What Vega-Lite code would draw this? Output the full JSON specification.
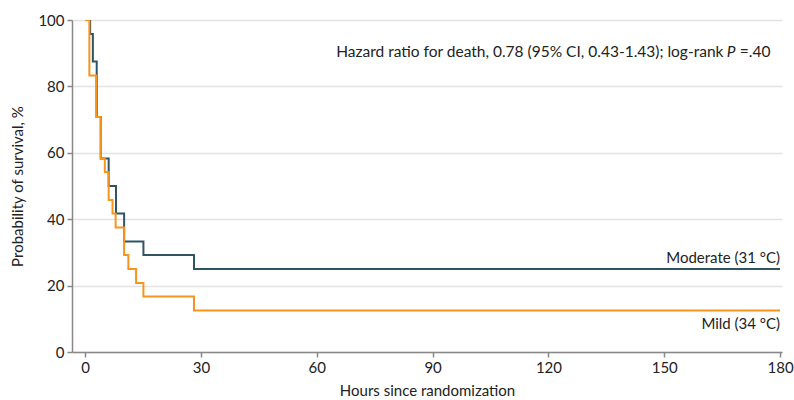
{
  "$schema": "https://vega.github.io/schema/vega-lite/v6.json",
  "autosize": {"type": "none"},
  "width": 710,
  "height": 332,
  "padding": {"left": 72, "top": 20, "right": 12, "bottom": 48},
  "config": {
    "font": "Lato",
    "view": {"stroke": null},
    "axis": {"labelFont": "Lato", "titleFont": "Lato", "labelFontSize": 15, "titleFontSize": 15, "labelColor": "#222", "titleColor": "#222", "titleFontWeight": "normal", "domainColor": "#888", "tickColor": "#888", "domainWidth": 1.5, "tickWidth": 1.5, "tickSize": 5}
  },
  "datasets": {
    "km": [
      {"group": "Moderate", "hours": 0, "surv": 100},
      {"group": "Moderate", "hours": 1.3, "surv": 95.8},
      {"group": "Moderate", "hours": 2, "surv": 87.5},
      {"group": "Moderate", "hours": 3, "surv": 70.8},
      {"group": "Moderate", "hours": 4.05, "surv": 58.3},
      {"group": "Moderate", "hours": 6.1, "surv": 50},
      {"group": "Moderate", "hours": 8, "surv": 41.7},
      {"group": "Moderate", "hours": 10.1, "surv": 33.3},
      {"group": "Moderate", "hours": 15.1, "surv": 29.2},
      {"group": "Moderate", "hours": 28.2, "surv": 25},
      {"group": "Moderate", "hours": 180, "surv": 25},
      {"group": "Mild", "hours": 0, "surv": 100},
      {"group": "Mild", "hours": 1.1, "surv": 83.3},
      {"group": "Mild", "hours": 2.85, "surv": 70.8},
      {"group": "Mild", "hours": 4.05, "surv": 58.3},
      {"group": "Mild", "hours": 5.1, "surv": 54.2},
      {"group": "Mild", "hours": 6.1, "surv": 45.8},
      {"group": "Mild", "hours": 7.1, "surv": 41.7},
      {"group": "Mild", "hours": 7.9, "surv": 37.5},
      {"group": "Mild", "hours": 10.1, "surv": 29.2},
      {"group": "Mild", "hours": 11.2, "surv": 25},
      {"group": "Mild", "hours": 13.2, "surv": 20.8},
      {"group": "Mild", "hours": 15.1, "surv": 16.7},
      {"group": "Mild", "hours": 28.2, "surv": 12.5},
      {"group": "Mild", "hours": 180, "surv": 12.5}
    ],
    "labels": [
      {"group": "Moderate", "hours": 180, "surv": 25, "text": "Moderate (31 °C)"},
      {"group": "Mild", "hours": 180, "surv": 12.5, "text": "Mild (34 °C)"}
    ],
    "annot": [
      {"hours": 177.5, "surv": 90.4, "part": "a", "text": "Hazard ratio for death, 0.78 (95% CI, 0.43-1.43); log-rank"},
      {"hours": 177.5, "surv": 90.4, "part": "b", "text": "P"},
      {"hours": 177.5, "surv": 90.4, "part": "c", "text": "=.40"}
    ]
  },
  "layer": [
    {
      "data": {"name": "km"},
      "mark": {"type": "line", "interpolate": "step-after", "strokeWidth": 2, "clip": true},
      "encoding": {
        "x": {"field": "hours", "type": "quantitative", "scale": {"domain": [-3.4, 180.5], "nice": false, "zero": false}, "axis": {"values": [0, 30, 60, 90, 120, 150, 180], "title": "Hours since randomization", "grid": false, "titlePadding": 8, "labelPadding": 3}},
        "y": {"field": "surv", "type": "quantitative", "scale": {"domain": [0, 100], "nice": false}, "axis": {"values": [0, 20, 40, 60, 80, 100], "title": "Probability of survival, %", "grid": true, "gridColor": "#e3e3e3", "gridWidth": 1.5, "titlePadding": 12, "labelPadding": 3}},
        "color": {"field": "group", "type": "nominal", "scale": {"domain": ["Moderate", "Mild"], "range": ["#2f5464", "#f7941d"]}, "legend": null},
        "order": {"field": "hours"}
      }
    },
    {
      "data": {"name": "labels"},
      "transform": [{"filter": "datum.group == 'Moderate'"}],
      "mark": {"type": "text", "align": "right", "baseline": "middle", "dy": -11, "fontSize": 15, "color": "#222"},
      "encoding": {"x": {"field": "hours", "type": "quantitative"}, "y": {"field": "surv", "type": "quantitative"}, "text": {"field": "text"}}
    },
    {
      "data": {"name": "labels"},
      "transform": [{"filter": "datum.group == 'Mild'"}],
      "mark": {"type": "text", "align": "right", "baseline": "middle", "dy": 13, "fontSize": 15, "color": "#222"},
      "encoding": {"x": {"field": "hours", "type": "quantitative"}, "y": {"field": "surv", "type": "quantitative"}, "text": {"field": "text"}}
    },
    {
      "data": {"name": "annot"},
      "transform": [{"filter": "datum.part == 'c'"}],
      "mark": {"type": "text", "align": "right", "baseline": "middle", "fontSize": 15.5, "color": "#222"},
      "encoding": {"x": {"field": "hours", "type": "quantitative"}, "y": {"field": "surv", "type": "quantitative"}, "text": {"field": "text"}}
    },
    {
      "data": {"name": "annot"},
      "transform": [{"filter": "datum.part == 'b'"}],
      "mark": {"type": "text", "align": "right", "baseline": "middle", "fontSize": 15.5, "fontStyle": "italic", "color": "#222", "dx": -35},
      "encoding": {"x": {"field": "hours", "type": "quantitative"}, "y": {"field": "surv", "type": "quantitative"}, "text": {"field": "text"}}
    },
    {
      "data": {"name": "annot"},
      "transform": [{"filter": "datum.part == 'a'"}],
      "mark": {"type": "text", "align": "right", "baseline": "middle", "fontSize": 15.5, "color": "#222", "dx": -47},
      "encoding": {"x": {"field": "hours", "type": "quantitative"}, "y": {"field": "surv", "type": "quantitative"}, "text": {"field": "text"}}
    }
  ]
}
